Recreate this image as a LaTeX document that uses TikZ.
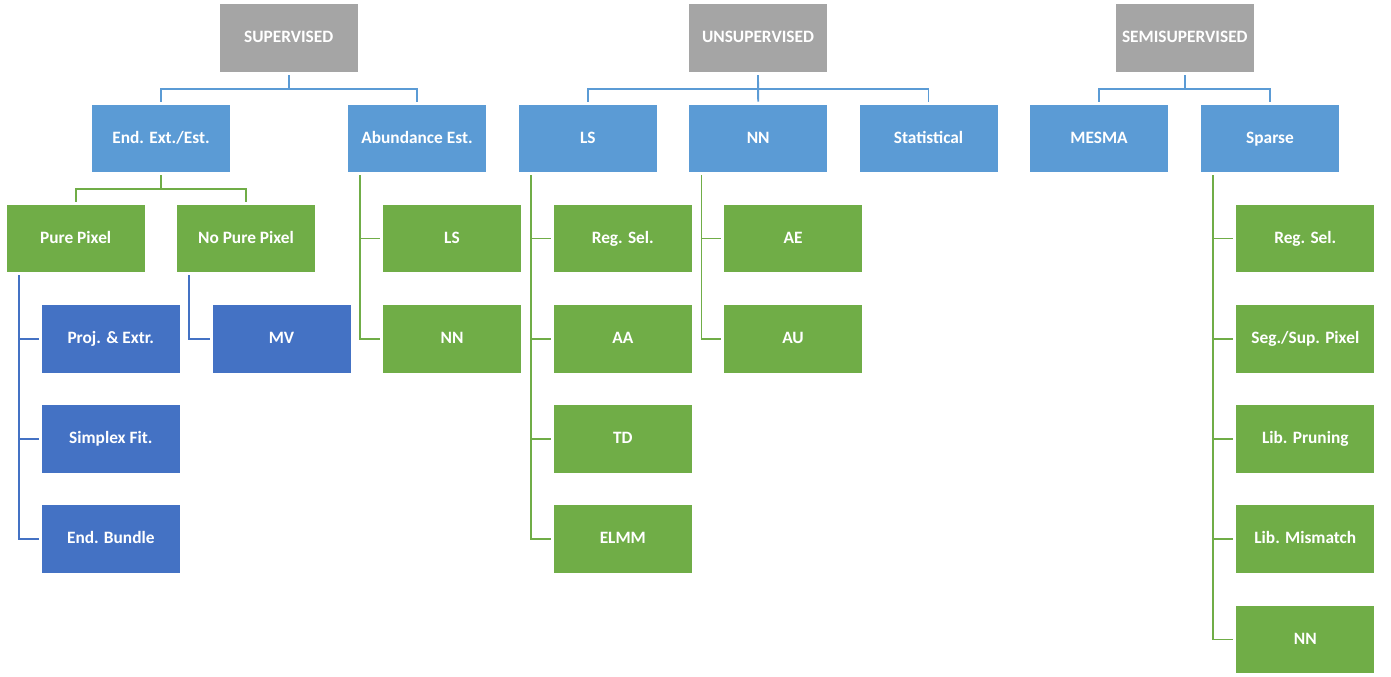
\documentclass[tikz,border=0pt]{standalone}
\usepackage{fontspec}
\setmainfont{Carlito}
\usetikzlibrary{calc}

\definecolor{headgray}{RGB}{165,165,165}
\definecolor{methblue}{RGB}{91,155,213}
\definecolor{subgreen}{RGB}{112,173,71}
\definecolor{leafblue}{RGB}{68,114,196}

\tikzset{every picture/.style={line width=0.75pt}}
\tikzset{
  box/.style={draw=white, line width=0.75pt, fill=#1, text=white, inner sep=0pt,
    font=\fontsize{13}{15}\selectfont\bfseries, text height=9.5pt, text depth=2.5pt,
    minimum width=104.25pt, minimum height=51.5pt},
  link/.style={draw=#1, line width=1.4pt, shorten <=1.5pt, shorten >=1.5pt},
}

\begin{document}
\begin{tikzpicture}[x=0.75pt,y=0.75pt,yscale=-1,xscale=1]
\path[use as bounding box] (0,0) rectangle (1391,677);

%Top row
\node [box=headgray] (sup) at (288.7,38.3) {SUPERVISED};
\node [box=headgray] (uns) at (758,38.3) {UNSUPERVISED};
\node [box=headgray] (semi) at (1184.8,38.3) {SEMISUPERVISED};

%Second row
\node [box=methblue] (eee) at (161,138.5) {End. Ext./Est.};
\node [box=methblue] (abe) at (417,138.5) {Abundance Est.};
\node [box=methblue] (uls) at (587.8,138.5) {LS};
\node [box=methblue] (unn) at (758.2,138.5) {NN};
\node [box=methblue] (stat) at (928.5,138.5) {Statistical};
\node [box=methblue] (mesma) at (1099,138.5) {MESMA};
\node [box=methblue] (sparse) at (1270,138.5) {Sparse};

%Third row
\node [box=subgreen] (pp) at (75.7,238.5) {Pure Pixel};
\node [box=subgreen] (npp) at (246,238.5) {No Pure Pixel};
\node [box=subgreen] (als) at (452,238.5) {LS};
\node [box=subgreen] (lreg) at (622.8,238.5) {Reg. Sel.};
\node [box=subgreen] (ae) at (793,238.5) {AE};
\node [box=subgreen] (sreg) at (1305.3,238.5) {Reg. Sel.};

%Fourth row
\node [box=leafblue] (proj) at (110.8,338.7) {Proj. \& Extr.};
\node [box=leafblue] (mv) at (281.5,338.7) {MV};
\node [box=subgreen] (ann) at (452,338.7) {NN};
\node [box=subgreen] (aa) at (622.8,338.7) {AA};
\node [box=subgreen] (au) at (793,338.7) {AU};
\node [box=subgreen] (seg) at (1305.3,338.7) {Seg./Sup. Pixel};

%Fifth row
\node [box=leafblue] (simp) at (110.8,439) {Simplex Fit.};
\node [box=subgreen] (td) at (622.8,439) {TD};
\node [box=subgreen] (prun) at (1305.3,439) {Lib. Pruning};

%Sixth row
\node [box=leafblue] (bund) at (110.8,539.3) {End. Bundle};
\node [box=subgreen] (elmm) at (622.8,539.3) {ELMM};
\node [box=subgreen] (mism) at (1305.3,539.3) {Lib. Mismatch};

%Seventh row
\node [box=subgreen] (snn) at (1305.3,639.5) {NN};

%Tree links
\draw [link=methblue] (sup.south) -- ++(0,16) -| (eee.north);
\draw [link=methblue] (sup.south) -- ++(0,16) -| (abe.north);
\draw [link=methblue] (uns.south) -- ++(0,16) -| (uls.north);
\draw [link=methblue] (uns.south) -- (unn.north);
\draw [link=methblue] (uns.south) -- ++(0,16) -| (stat.north);
\draw [link=methblue] (semi.south) -- ++(0,16) -| (mesma.north);
\draw [link=methblue] (semi.south) -- ++(0,16) -| (sparse.north);
\draw [link=subgreen] (eee.south) -- ++(0,16) -| (pp.north);
\draw [link=subgreen] (eee.south) -- ++(0,16) -| (npp.north);

%Side links
\draw [link=leafblue] ($(pp.south west)+(13.3,0)$) |- (proj.west);
\draw [link=leafblue] ($(pp.south west)+(13.3,0)$) |- (simp.west);
\draw [link=leafblue] ($(pp.south west)+(13.3,0)$) |- (bund.west);
\draw [link=leafblue] ($(npp.south west)+(13.3,0)$) |- (mv.west);
\draw [link=subgreen] ($(abe.south west)+(13.3,0)$) |- (als.west);
\draw [link=subgreen] ($(abe.south west)+(13.3,0)$) |- (ann.west);
\draw [link=subgreen] ($(uls.south west)+(13.3,0)$) |- (lreg.west);
\draw [link=subgreen] ($(uls.south west)+(13.3,0)$) |- (aa.west);
\draw [link=subgreen] ($(uls.south west)+(13.3,0)$) |- (td.west);
\draw [link=subgreen] ($(uls.south west)+(13.3,0)$) |- (elmm.west);
\draw [link=subgreen] ($(unn.south west)+(13.3,0)$) |- (ae.west);
\draw [link=subgreen] ($(unn.south west)+(13.3,0)$) |- (au.west);
\draw [link=subgreen] ($(sparse.south west)+(13.3,0)$) |- (sreg.west);
\draw [link=subgreen] ($(sparse.south west)+(13.3,0)$) |- (seg.west);
\draw [link=subgreen] ($(sparse.south west)+(13.3,0)$) |- (prun.west);
\draw [link=subgreen] ($(sparse.south west)+(13.3,0)$) |- (mism.west);
\draw [link=subgreen] ($(sparse.south west)+(13.3,0)$) |- (snn.west);

\end{tikzpicture}
\end{document}
